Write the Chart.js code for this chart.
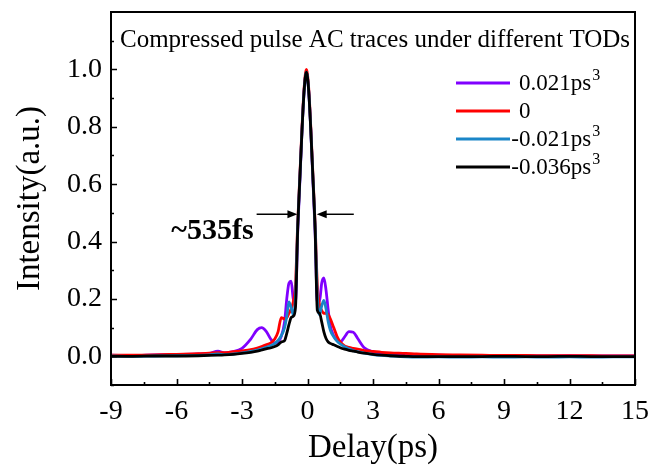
<!DOCTYPE html>
<html>
<head>
<meta charset="utf-8">
<script src="https://cdn.jsdelivr.net/npm/chart.js@4.4.1/dist/chart.umd.min.js"></script>
<style>
html,body{margin:0;padding:0;background:#fff;}
#wrap{width:654px;height:465px;overflow:hidden;}
</style>
</head>
<body>
<div id="wrap"><canvas id="c" width="654" height="465"></canvas></div>
<script>
// ---- data ----
const delay = [-9,-8,-7,-6,-5,-4.5,-4.1,-3.8,-3.4,-3.0,-2.6,-2.3,-2.1,-1.9,-1.7,-1.5,-1.35,-1.2,-1.05,-0.95,-0.85,-0.75,-0.65,-0.55,-0.45,-0.35,-0.25,-0.15,-0.05,0.05,0.15,0.25,0.35,0.45,0.55,0.65,0.75,0.85,0.95,1.05,1.2,1.35,1.5,1.7,1.9,2.1,2.3,2.6,3.0,3.4,3.8,4.5,5,6,7,8,9,10,11,12,13,14,15];

const tod_p021 = [0.004,0.003,0.005,0.006,0.008,0.010,0.018,0.012,0.016,0.028,0.060,0.093,0.100,0.088,0.062,0.046,0.050,0.070,0.120,0.200,0.255,0.262,0.200,0.190,0.430,0.610,0.790,0.930,0.990,0.930,0.790,0.610,0.430,0.190,0.190,0.255,0.273,0.230,0.160,0.105,0.072,0.056,0.050,0.068,0.086,0.084,0.062,0.030,0.016,0.011,0.008,0.006,0.005,0.004,0.003,0.003,0.002,0.002,0.001,0.002,0.001,0.001,0.001];

const tod_0 = [0.004,0.004,0.005,0.007,0.009,0.011,0.013,0.013,0.016,0.019,0.023,0.029,0.034,0.040,0.046,0.060,0.085,0.135,0.130,0.135,0.150,0.165,0.190,0.250,0.460,0.630,0.800,0.940,1.000,0.940,0.800,0.630,0.460,0.250,0.180,0.160,0.150,0.150,0.145,0.130,0.100,0.070,0.050,0.036,0.031,0.028,0.025,0.020,0.017,0.014,0.012,0.010,0.008,0.006,0.005,0.004,0.003,0.003,0.002,0.002,0.002,0.001,0.001];

const tod_m021 = [0.001,0.000,0.001,0.002,0.003,0.005,0.008,0.006,0.008,0.012,0.017,0.022,0.026,0.031,0.037,0.045,0.055,0.072,0.100,0.140,0.190,0.170,0.145,0.210,0.450,0.620,0.790,0.930,0.990,0.930,0.790,0.620,0.450,0.210,0.145,0.175,0.195,0.165,0.120,0.090,0.068,0.053,0.043,0.033,0.026,0.020,0.016,0.011,0.006,0.003,0.001,-0.002,-0.003,-0.002,-0.003,-0.002,-0.003,-0.002,-0.003,-0.002,-0.003,-0.002,-0.002];

const tod_m036 = [0.000,0.000,0.001,0.001,0.002,0.003,0.004,0.005,0.007,0.010,0.014,0.018,0.022,0.026,0.029,0.034,0.040,0.050,0.055,0.080,0.110,0.135,0.140,0.170,0.440,0.620,0.790,0.930,0.990,0.930,0.790,0.620,0.440,0.160,0.150,0.120,0.085,0.062,0.050,0.045,0.040,0.035,0.030,0.025,0.021,0.018,0.015,0.011,0.007,0.004,0.002,0.000,-0.001,-0.001,-0.001,-0.001,0.000,-0.001,-0.001,0.000,-0.001,-0.001,-0.001];

const seriesNames = ['0.021ps', '0', '-0.021ps', '-0.036ps'];
const seriesSup = ['3', '', '3', '3'];
const seriesColors = ['#8000FF', '#FF0000', '#1A86C8', '#000000'];
const seriesValues = [tod_p021, tod_0, tod_m021, tod_m036];

const xTicks = [-9,-6,-3,0,3,6,9,12,15];
const yTicks = [0.0,0.2,0.4,0.6,0.8,1.0];
const chartTitle = 'Compressed pulse AC traces under different TODs';
const fwhmLabel = '~535fs';

const SERIF = '"Liberation Serif", "DejaVu Serif", serif';

const datasets = seriesValues.map((vals, i) => ({
  label: seriesNames[i] + seriesSup[i],
  data: delay.map((d, j) => ({x: d, y: vals[j]})),
  borderColor: seriesColors[i],
  backgroundColor: seriesColors[i],
  borderWidth: 2.8,
  pointRadius: 0,
  cubicInterpolationMode: 'monotone',
  order: 3 - i
}));

const overlay = {
  id: 'overlay',
  afterDraw(chart) {
    const ctx = chart.ctx;
    const a = chart.chartArea;
    const xs = chart.scales.x, ys = chart.scales.y;
    ctx.save();
    // frame
    ctx.strokeStyle = '#000';
    ctx.lineWidth = 2;
    ctx.strokeRect(a.left, a.top, a.right - a.left, a.bottom - a.top);
    // inward ticks
    ctx.lineWidth = 1.6;
    ctx.beginPath();
    for (let v = -9; v <= 15.001; v += 1.5) {
      const px = Math.round(xs.getPixelForValue(v)) + 0.5;
      const major = Math.abs(v / 3 - Math.round(v / 3)) < 1e-6;
      ctx.moveTo(px, a.bottom);
      ctx.lineTo(px, a.bottom - (major ? 6 : 3));
    }
    for (let k = -1; k <= 11; k++) {
      const v = k / 10;
      const py = Math.round(ys.getPixelForValue(v)) + 0.5;
      const major = k % 2 === 0;
      ctx.moveTo(a.left, py);
      ctx.lineTo(a.left + (major ? 6 : 3), py);
    }
    ctx.stroke();

    // title inside plot
    ctx.fillStyle = '#000';
    ctx.font = '25px ' + SERIF;
    ctx.textAlign = 'left';
    ctx.textBaseline = 'middle';
    ctx.fillText(chartTitle, 120, 40);

    // legend
    const rowsY = [83, 111, 139, 167];
    for (let i = 0; i < seriesNames.length; i++) {
      const y = rowsY[i];
      ctx.strokeStyle = seriesColors[i];
      ctx.lineWidth = 2.8;
      ctx.beginPath();
      ctx.moveTo(456, y);
      ctx.lineTo(510, y);
      ctx.stroke();
      ctx.font = '23px ' + SERIF;
      const name = seriesNames[i];
      let tx = 519;
      if (name.startsWith('-')) tx -= ctx.measureText('-').width;
      ctx.fillStyle = '#000';
      ctx.textBaseline = 'middle';
      ctx.fillText(name, tx, y + 1);
      if (seriesSup[i]) {
        const w = ctx.measureText(name).width;
        ctx.font = '16px ' + SERIF;
        ctx.fillText(seriesSup[i], tx + w + 1, y - 7);
      }
    }

    // FWHM annotation
    ctx.font = 'bold 30px ' + SERIF;
    ctx.textAlign = 'right';
    ctx.textBaseline = 'middle';
    ctx.fillStyle = '#000';
    ctx.fillText(fwhmLabel, xs.getPixelForValue(-2.47), ys.getPixelForValue(0.435));

    const arrowY = ys.getPixelForValue(0.495);
    function arrow(x0, x1) {
      const p0 = xs.getPixelForValue(x0), p1 = xs.getPixelForValue(x1);
      const dir = Math.sign(p1 - p0);
      ctx.strokeStyle = '#000';
      ctx.lineWidth = 1.5;
      ctx.beginPath();
      ctx.moveTo(p0, arrowY);
      ctx.lineTo(p1 - dir * 8, arrowY);
      ctx.stroke();
      ctx.beginPath();
      ctx.moveTo(p1, arrowY);
      ctx.lineTo(p1 - dir * 10, arrowY - 4);
      ctx.lineTo(p1 - dir * 10, arrowY + 4);
      ctx.closePath();
      ctx.fill();
    }
    arrow(-2.33, -0.46);
    arrow(2.12, 0.42);
    ctx.restore();
  }
};

new Chart(document.getElementById('c'), {
  type: 'line',
  data: { datasets },
  options: {
    responsive: false,
    animation: false,
    devicePixelRatio: 1,
    layout: { padding: { left: 0, right: 19, top: 12, bottom: 0 } },
    plugins: { legend: { display: false }, tooltip: { enabled: false }, title: { display: false } },
    scales: {
      x: {
        type: 'linear',
        min: -9, max: 15,
        afterBuildTicks: (s) => { s.ticks = xTicks.map(v => ({value: v})); },
        afterFit: (s) => { s.height = 80; s.paddingLeft = 0; s.paddingRight = 0; },
        grid: { display: false, drawTicks: false },
        border: { display: false },
        ticks: { color: '#000', font: { family: SERIF, size: 28 }, padding: 10, maxRotation: 0, autoSkip: false,
                 callback: (v) => String(v) },
        title: { display: true, text: 'Delay(ps)', color: '#000', font: { family: SERIF, size: 33, lineHeight: 1 }, padding: { top: 0, bottom: 0 } }
      },
      y: {
        type: 'linear',
        min: -0.1, max: 1.2,
        afterBuildTicks: (s) => { s.ticks = yTicks.map(v => ({value: v})); },
        afterFit: (s) => { s.width = 111; s.paddingTop = 0; s.paddingBottom = 0; },
        grid: { display: false, drawTicks: false },
        border: { display: false },
        ticks: { color: '#000', font: { family: SERIF, size: 28 }, padding: 9, autoSkip: false,
                 callback: (v) => Number(v).toFixed(1) },
        title: { display: true, text: 'Intensity(a.u.)', color: '#000', font: { family: SERIF, size: 33, lineHeight: 1 }, padding: { top: 14, bottom: 0 } }
      }
    }
  },
  plugins: [overlay]
});
</script>
</body>
</html>
